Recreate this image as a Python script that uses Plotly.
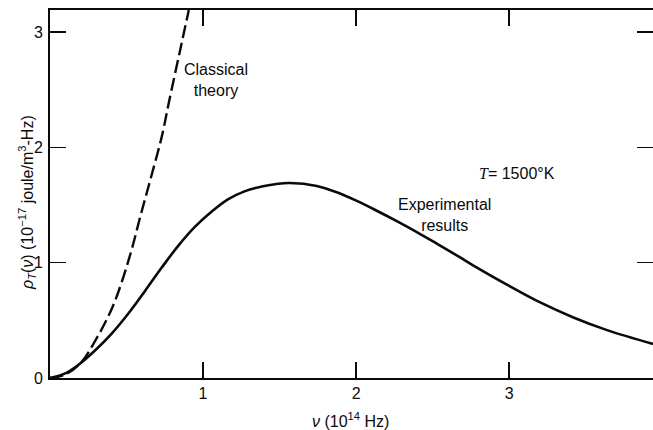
import plotly.graph_objects as go

# Experimental (solid) curve
exp_nu = [0, 0.10, 0.185, 0.294, 0.403, 0.512, 0.621, 0.730, 0.839, 0.948, 1.057, 1.165,
          1.275, 1.384, 1.47, 1.567, 1.743, 1.874, 2.005, 2.135, 2.266, 2.397, 2.527,
          2.68, 2.767, 2.985, 3.203, 3.42, 3.64, 3.94]
exp_rho = [0, 0.04, 0.113, 0.238, 0.385, 0.559, 0.755, 0.957, 1.148, 1.312, 1.443, 1.55,
           1.62, 1.66, 1.68, 1.69, 1.665, 1.61, 1.535, 1.45, 1.36, 1.265, 1.165,
           1.045, 0.975, 0.81, 0.655, 0.525, 0.415, 0.295]

# Classical theory (dashed) curve
cls_nu = [0, 0.10, 0.20, 0.29, 0.41, 0.52, 0.59, 0.66, 0.73, 0.78, 0.85, 0.907]
cls_rho = [0, 0.03, 0.13, 0.31, 0.62, 1.05, 1.40, 1.74, 2.09, 2.41, 2.84, 3.19]

x_ticks = [1, 2, 3]
y_ticks = [0, 1, 2, 3]

FONT = "Liberation Sans"
INK = "#0a0a0a"

fig = go.Figure()
fig.add_trace(go.Scatter(x=cls_nu, y=cls_rho, mode="lines", line_shape="spline",
                         line=dict(color=INK, width=2.4, dash="13px,5px"),
                         hoverinfo="skip", showlegend=False))
fig.add_trace(go.Scatter(x=exp_nu, y=exp_rho, mode="lines", line_shape="spline",
                         line=dict(color=INK, width=2.6),
                         hoverinfo="skip", showlegend=False))
# invisible trace to activate the right-side tick axis
fig.add_trace(go.Scatter(x=exp_nu, y=exp_rho, yaxis="y2", mode="lines",
                         line=dict(width=0), opacity=0, hoverinfo="skip", showlegend=False))

L, T, R, B = 50, 10, 0, 52
W, H = 653, 430
PW, PH = W - L - R, H - T - B

fig.update_layout(
    template="none",
    width=W, height=H,
    margin=dict(l=L, r=R, t=T, b=B, autoexpand=False),
    paper_bgcolor="white", plot_bgcolor="white",
    font=dict(family=FONT, size=16, color=INK),
    xaxis=dict(range=[0, 3.94], tickvals=x_ticks, ticks="inside", ticklen=16, tickwidth=1.5,
               tickcolor=INK, showline=True, linecolor=INK, linewidth=1.8, mirror="ticks",
               showgrid=False, zeroline=False, tickfont=dict(size=16), automargin=False,
               fixedrange=True),
    yaxis=dict(range=[0, 3.19], tickvals=y_ticks, ticks="inside", ticklen=16, tickwidth=1.5,
               tickcolor=INK, showline=True, linecolor=INK, linewidth=1.8,
               showgrid=False, zeroline=False, tickfont=dict(size=16), ticklabelstandoff=2,
               automargin=False, fixedrange=True),
    yaxis2=dict(range=[0, 3.19], overlaying="y", side="right", tickvals=y_ticks,
                ticks="inside", ticklen=16, tickwidth=1.5, tickcolor=INK,
                showline=False, showticklabels=False, showgrid=False, zeroline=False,
                automargin=False, fixedrange=True),
)

fig.add_annotation(x=1.085, y=2.58, xref="x", yref="y", showarrow=False,
                   text="Classical<br>theory", font=dict(size=16), align="center")
fig.add_annotation(x=3.05, y=1.77, xref="x", yref="y", showarrow=False,
                   text="<span style='font-family:Liberation Serif'><i>T</i></span>= 1500°K",
                   font=dict(size=16))
fig.add_annotation(x=2.575, y=1.41, xref="x", yref="y", showarrow=False,
                   text="Experimental<br>results", font=dict(size=16), align="center")

# axis titles placed in pixel space relative to the plot area
fig.add_annotation(x=(27 - L) / PW, y=1 - (203 - T) / PH, xref="paper", yref="paper",
                   xanchor="center", yanchor="middle", showarrow=False,
                   textangle=-90, font=dict(size=16),
                   text="<i>ρ</i><sub><i>T</i></sub>(<i>ν</i>) (10<sup>−17</sup> joule/m<sup>3</sup>-Hz)")
fig.add_annotation(x=(350 - L) / PW, y=-(420 - (H - B)) / PH, xref="paper", yref="paper",
                   xanchor="center", yanchor="middle", showarrow=False,
                   font=dict(size=16),
                   text="<i>ν</i> (10<sup>14</sup> Hz)")

fig.write_html("out.html", config={"displayModeBar": False, "staticPlot": True},
               post_script="document.body.style.margin='0px';document.body.style.overflow='hidden';")
